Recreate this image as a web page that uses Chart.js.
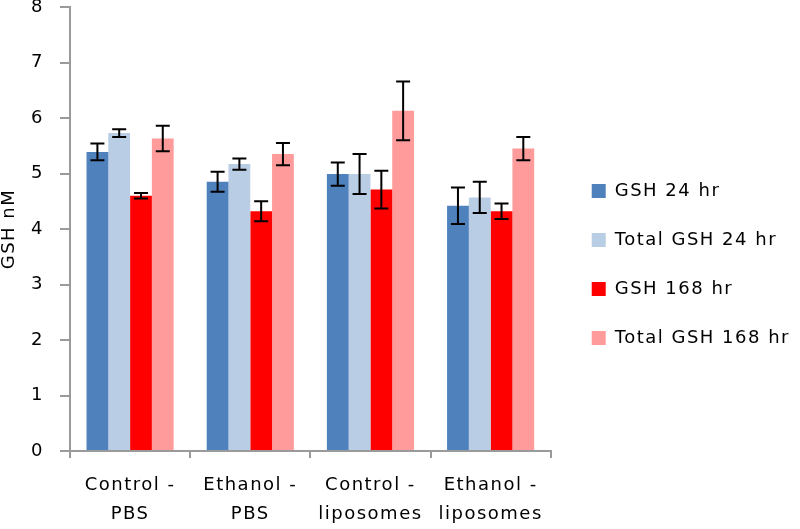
<!DOCTYPE html>
<html>
<head>
<meta charset="utf-8">
<script src="https://cdn.jsdelivr.net/npm/chart.js@4"></script>
<style>
  html, body { margin: 0; padding: 0; background: #ffffff; }
  #wrap { width: 800px; height: 529px; }
</style>
</head>
<body>
<div id="wrap"><canvas id="c" width="800" height="529"></canvas></div>
<script>
// ---- data ----
const categories = [['Control -', 'PBS'], ['Ethanol -', 'PBS'], ['Control -', 'liposomes'], ['Ethanol -', 'liposomes']];
const seriesNames = ['GSH 24 hr', 'Total GSH 24 hr', 'GSH 168 hr', 'Total GSH 168 hr'];
const gsh24 = [5.39, 4.85, 4.99, 4.42];
const gsh24Err = [0.15, 0.18, 0.21, 0.33];
const totalGsh24 = [5.73, 5.17, 4.99, 4.57];
const totalGsh24Err = [0.07, 0.10, 0.36, 0.28];
const gsh168 = [4.60, 4.32, 4.71, 4.32];
const gsh168Err = [0.05, 0.18, 0.34, 0.14];
const totalGsh168 = [5.63, 5.35, 6.13, 5.45];
const totalGsh168Err = [0.23, 0.20, 0.53, 0.21];
const yTickValues = [0, 1, 2, 3, 4, 5, 6, 7, 8];
const yTitle = 'GSH nM';

const colors = ['#4f81bd', '#b9cde5', '#ff0000', '#ff9b9b'];
const values = [gsh24, totalGsh24, gsh168, totalGsh168];
const errors = [gsh24Err, totalGsh24Err, gsh168Err, totalGsh168Err];

const FONT = "'DejaVu Sans', sans-serif";
const SPACING = '1.5px';
const axisGray = '#9a9a9a';

const spacingPlugin = {
  id: 'spacing',
  beforeUpdate(chart) { chart.ctx.letterSpacing = SPACING; },
  beforeLayout(chart) { chart.ctx.letterSpacing = SPACING; },
  beforeDraw(chart) { chart.ctx.letterSpacing = SPACING; }
};

const errorBarPlugin = {
  id: 'errorBars',
  afterDatasetsDraw(chart) {
    const ctx = chart.ctx;
    const yScale = chart.scales.y;
    ctx.save();
    ctx.strokeStyle = '#000000';
    ctx.lineWidth = 2;
    chart.data.datasets.forEach((ds, i) => {
      const meta = chart.getDatasetMeta(i);
      meta.data.forEach((bar, j) => {
        const v = ds.data[j];
        const e = ds.errors[j];
        const x = bar.x;
        const yTop = yScale.getPixelForValue(v + e);
        const yBot = yScale.getPixelForValue(v - e);
        const half = 7;
        ctx.beginPath();
        ctx.moveTo(x, yTop); ctx.lineTo(x, yBot);
        ctx.moveTo(x - half, yTop); ctx.lineTo(x + half, yTop);
        ctx.moveTo(x - half, yBot); ctx.lineTo(x + half, yBot);
        ctx.stroke();
      });
    });
    ctx.restore();
  }
};

new Chart(document.getElementById('c'), {
  type: 'bar',
  data: {
    labels: categories,
    datasets: seriesNames.map((name, i) => ({
      label: name,
      data: values[i],
      errors: errors[i],
      backgroundColor: colors[i],
      borderWidth: 0,
      categoryPercentage: 0.725,
      barPercentage: 1.0
    }))
  },
  options: {
    responsive: false,
    animation: false,
    layout: { padding: 0 },
    plugins: {
      legend: {
        position: 'right',
        align: 'center',
        maxWidth: 270,
        labels: {
          boxWidth: 14,
          boxHeight: 14,
          padding: 31,
          color: '#000000',
          font: { family: FONT, size: 18 }
        }
      },
      tooltip: { enabled: false }
    },
    scales: {
      x: {
        offset: true,
        afterFit(scale) { scale.height = 78; },
        grid: { display: true, offset: true, drawOnChartArea: false, drawTicks: true, tickLength: 7, color: axisGray, lineWidth: 2 },
        border: { display: true, color: axisGray, width: 2 },
        ticks: { color: '#000000', padding: 12, maxRotation: 0, autoSkip: false, font: { family: FONT, size: 18, lineHeight: 1.65 } }
      },
      y: {
        min: 0,
        max: 8,
        afterBuildTicks(scale) { scale.ticks = yTickValues.map(v => ({ value: v })); },
        afterFit(scale) { scale.width = 70; },
        grid: { display: true, drawOnChartArea: false, drawTicks: true, tickLength: 23, tickBorderDash: [10, 13], tickBorderDashOffset: 10, color: axisGray, lineWidth: 2 },
        border: { display: true, color: axisGray, width: 2 },
        ticks: { color: '#000000', padding: 3, font: { family: FONT, size: 18, lineHeight: 0.45 } },
        title: { display: true, text: yTitle, color: '#000000', padding: { top: 0, bottom: 0 }, font: { family: FONT, size: 18, lineHeight: 1 } }
      },
      gap: {
        position: 'right',
        display: true,
        afterFit(scale) { scale.width = 10; },
        grid: { display: false },
        border: { display: false },
        ticks: { display: false }
      }
    }
  },
  plugins: [spacingPlugin, errorBarPlugin]
});
</script>
</body>
</html>
